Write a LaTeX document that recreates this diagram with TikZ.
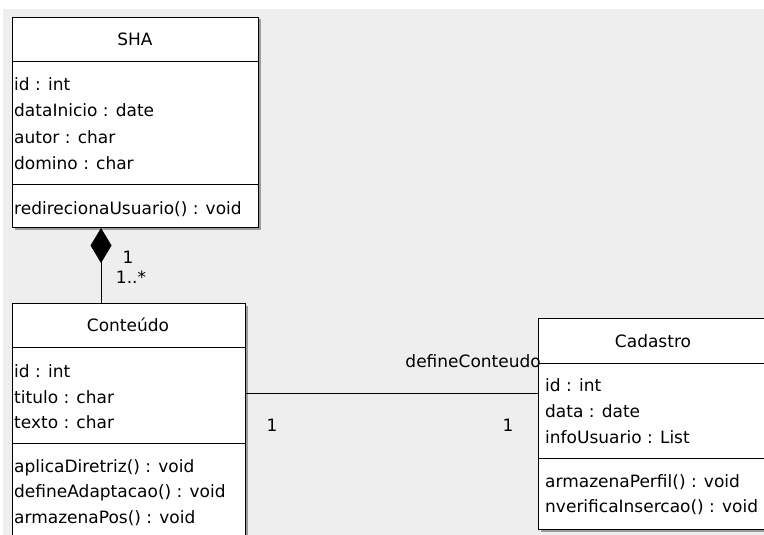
\documentclass[tikz,border=0pt]{standalone}
\usepackage{fontspec}
\setmainfont{DejaVu Sans}
\usetikzlibrary{arrows.meta,shadows}

\begin{document}
\begin{tikzpicture}[x=1pt,y=-1pt,font=\fontsize{17}{20}\selectfont,
	classbox/.style={draw,fill=white,line width=1pt,rectangle,inner sep=0pt,anchor=north west,
		drop shadow={shadow xshift=2pt,shadow yshift=-2pt,fill=black!60,opacity=.6}},
	member/.style={anchor=base west,inner sep=0pt},
	title/.style={anchor=base,inner sep=0pt},
	mult/.style={inner sep=0pt}]
\useasboundingbox (0,0) rectangle (764,535);
\clip (0,0) rectangle (764,535);
\fill[white] (0,0) rectangle (764,535);
\fill[gray!13] (3,9) rectangle (764,535);
% SHA
\node[classbox,minimum width=246pt,minimum height=210pt] (sha) at (12,17) {};
\draw[line width=1pt] ([yshift=-45pt]sha.north west) -- ([yshift=-45pt]sha.north east);
\draw[line width=1pt] ([yshift=-167pt]sha.north west) -- ([yshift=-167pt]sha.north east);
\node[title] (shaName) at (135,46) {SHA};
\node[member] (shaId) at (14,91) {id : int};
\node[member] (shaData) at (14,117) {dataInicio : date};
\node[member] (shaAutor) at (14,143) {autor : char};
\node[member] (shaDom) at (14,169) {domino : char};
\node[member] (shaRedir) at (14,214) {redirecionaUsuario() : void};
% Conteudo
\node[classbox,minimum width=233pt,minimum height=250pt] (cont) at (12,303) {};
\draw[line width=1pt] ([yshift=-44pt]cont.north west) -- ([yshift=-44pt]cont.north east);
\draw[line width=1pt] ([yshift=-140pt]cont.north west) -- ([yshift=-140pt]cont.north east);
\node[title] (contName) at (128,331) {Conteúdo};
\node[member] (contId) at (14,377) {id : int};
\node[member] (contTit) at (14,403) {titulo : char};
\node[member] (contTxt) at (14,428) {texto : char};
\node[member] (contDir) at (14,472) {aplicaDiretriz() : void};
\node[member] (contAdap) at (14,497) {defineAdaptacao() : void};
\node[member] (contPos) at (14,523) {armazenaPos() : void};
% Cadastro
\node[classbox,minimum width=230pt,minimum height=211pt] (cad) at (538,318) {};
\draw[line width=1pt] ([yshift=-45pt]cad.north west) -- ([yshift=-45pt]cad.north east);
\draw[line width=1pt] ([yshift=-140pt]cad.north west) -- ([yshift=-140pt]cad.north east);
\node[title] (cadName) at (653,347) {Cadastro};
\node[member] (cadId) at (545,391) {id : int};
\node[member] (cadData) at (545,417) {data : date};
\node[member] (cadInfo) at (545,443) {infoUsuario : List};
\node[member] (cadPerf) at (545,487) {armazenaPerfil() : void};
\node[member] (cadVer) at (545,512) {nverificaInsercao() : void};
% composition SHA - Conteudo
\draw[line width=1pt,-{Diamond[length=35pt,width=21pt]}] ([xshift=89pt]cont.north west) -- ([xshift=89pt]sha.south west);
\node[mult] (compA) at (128,257) {1};
\node[mult] (compB) at (131,277) {1..*};
% association Conteudo - Cadastro
\draw[line width=1pt] ([yshift=-90pt]cont.north east) -- ([yshift=-90pt]cont.north east -| cad.west);
\node[anchor=base east,inner sep=0pt] (assocName) at (541,367) {defineConteudo};
\node[mult] (assocA) at (272,425) {1};
\node[mult] (assocB) at (508,425) {1};
\end{tikzpicture}
\end{document}
